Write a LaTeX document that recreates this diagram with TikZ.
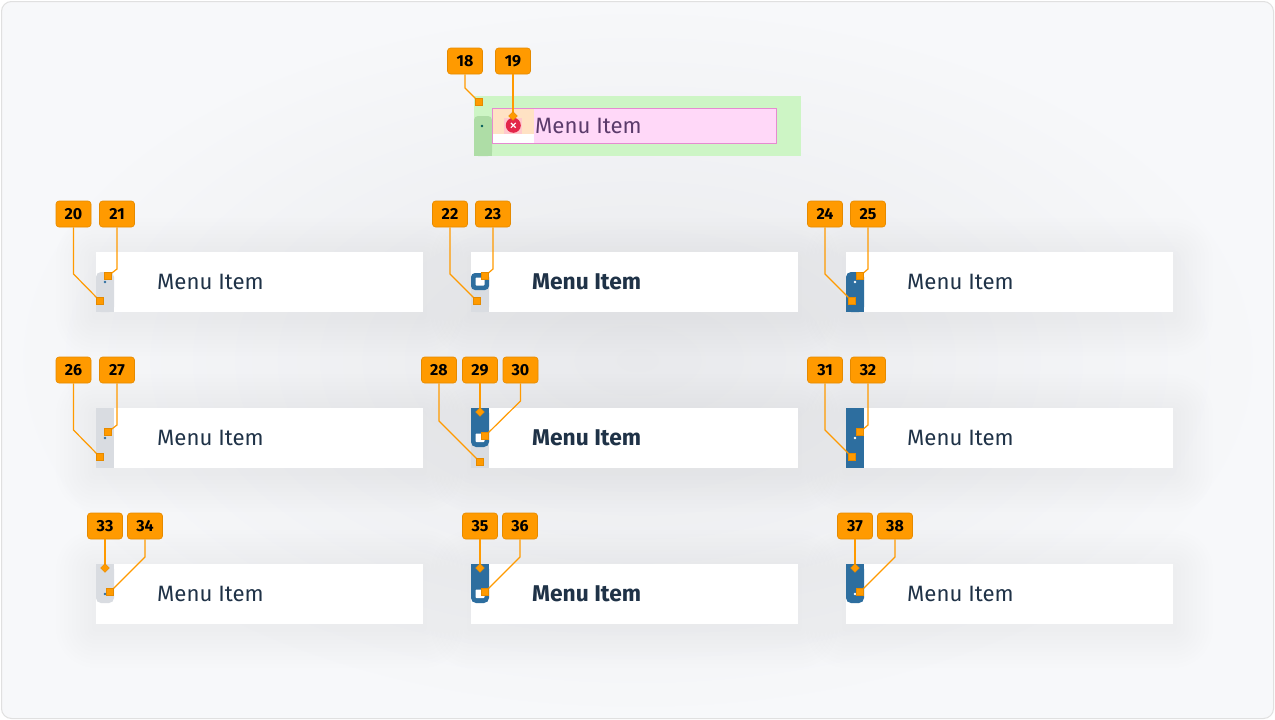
\documentclass[tikz,border=0pt]{standalone}
\usepackage{fontspec}
\setmainfont{Fira Sans}
\usetikzlibrary{shapes.geometric,calc}
\definecolor{orng}{HTML}{FF9A00}
\definecolor{orngd}{HTML}{E58A00}
\definecolor{navy}{HTML}{1F3247}
\definecolor{blu}{HTML}{2D6E9F}
\definecolor{gry}{HTML}{D9DCE1}
\definecolor{grn}{HTML}{CDF5C5}
\definecolor{grnd}{HTML}{AEDDA6}
\definecolor{pnk}{HTML}{FFD8F8}
\definecolor{pnkd}{HTML}{E58BD0}
\definecolor{peach}{HTML}{FFE2C4}
\definecolor{xred}{HTML}{E3264A}
\definecolor{purp}{HTML}{5B3B6B}
\definecolor{bgin}{HTML}{E8E9EC}
\definecolor{bgout}{HTML}{F7F8FA}
\tikzset{
 lab/.style={fill=orng, draw=orngd, line width=0.6, rounded corners=3, minimum width=35, minimum height=26, inner sep=0, font=\bfseries\fontsize{16}{16}\selectfont, text=black},
 lead/.style={draw=orng, line width=1.2},
 sqm/.style={fill=orng, draw=orngd, line width=0.4, minimum size=7, inner sep=0},
 dmm/.style={diamond, fill=orng, draw=orngd, inner sep=0, minimum size=9, line width=0.4},
 itembox/.style={fill=white},
 mtxt/.style={anchor=west, text=navy, font=\fontsize{22.2}{22}\selectfont, inner sep=0},
 btxt/.style={anchor=west, text=navy, font=\bfseries\fontsize{22.8}{22}\selectfont, inner sep=0},
}
\newcommand\itemshadow[2]{%
 \foreach \k [evaluate=\k as \r using \k*4] in {1,...,10}{%
  \fill[black, opacity=0.0045, rounded corners=\r] (#1-\r, #2+6-\r) rectangle (#1+327+\r, #2+64+\r);}}
\begin{document}
\begin{tikzpicture}[x=1pt,y=-1pt]
\useasboundingbox (0,0) rectangle (1275,720);
\fill[white] (0,0) rectangle (1275,720);
\shade[inner color=bgin, outer color=bgout, rounded corners=10] (1.5,1.5) rectangle (1273.5,718.5);
\draw[draw=black!12, line width=1, rounded corners=10] (1.5,1.5) rectangle (1273.5,718.5);

% ---------- top component ----------
\fill[grn] (474,96) rectangle (801,156);
\fill[grnd, rounded corners=4] (474,116) rectangle (492,156);
\fill[grnd] (474,130) rectangle (492,156);
\fill[teal!70!black] (482,126) circle (1.3);
\fill[pnk] (492.3,108.3) rectangle (776.7,143.3);
\fill[peach] (492.8,108.8) rectangle (534,134);
\fill[white] (492.8,134) rectangle (534,142.8);
\fill[pnk!85!red!60!peach] (504,117.7) rectangle (521.7,134);
\draw[pnkd, line width=0.8] (492.3,108.3) rectangle (776.7,143.3);
\node[circle, fill=xred, minimum size=15, inner sep=0] (xc) at (513.3,125.3) {};
\draw[white, line width=1.1] ($(xc.center)+(-2.4,-2.4)$) -- ($(xc.center)+(2.4,2.4)$);
\draw[white, line width=1.1] ($(xc.center)+(-2.4,2.4)$) -- ($(xc.center)+(2.4,-2.4)$);
\node[mtxt, text=purp] (t0) at (535,126) {Menu Item};

% ---------- item shadows ----------
\foreach \xx in {96,471,846}{\foreach \yy in {252,408,564}{\itemshadow{\xx}{\yy}}}

% ---------- items ----------
\foreach \xx/\yy in {96/252,471/252,846/252,96/408,471/408,846/408,96/564,471/564,846/564}{
  \fill[itembox] (\xx,\yy) rectangle (\xx+327,\yy+60);
}

% row 1
\fill[gry, rounded corners=5] (96,272) rectangle (114,312);
\fill[gry] (96,285) rectangle (114,312);
\fill[blu] (105,282) circle (1.4);
\fill[gry, rounded corners=5] (471,273) rectangle (489,312);
\fill[gry] (471,290) rectangle (489,312);
\fill[blu, rounded corners=4] (471,273) rectangle (489,290);
\fill[white, rounded corners=0.8] (475.5,277.5) rectangle (484.5,285.5);
\fill[blu, rounded corners=5] (846,272) rectangle (864,312);
\fill[blu] (846,285) rectangle (864,312);
\fill[white] (855,282) circle (1.4);
\node[mtxt] (ta1) at (157,282) {Menu Item};
\node[btxt] (ta2) at (532,282) {Menu Item};
\node[mtxt] (ta3) at (907,282) {Menu Item};

% row 2
\fill[gry] (96,408) rectangle (114,468);
\fill[blu] (105,438) circle (1.4);
\fill[gry] (471,408) rectangle (489,468);
\fill[blu, rounded corners=5] (471,408) rectangle (489,447);
\fill[blu] (471,408) rectangle (489,425);
\fill[white, rounded corners=0.8] (475.5,433.5) rectangle (484.5,442);
\fill[blu] (846,408) rectangle (864,468);
\fill[white] (855,438) circle (1.4);
\node[mtxt] (tb1) at (157,438) {Menu Item};
\node[btxt] (tb2) at (532,438) {Menu Item};
\node[mtxt] (tb3) at (907,438) {Menu Item};

% row 3
\fill[gry, rounded corners=5] (96,564) rectangle (114,603);
\fill[gry] (96,564) rectangle (114,580);
\fill[blu] (105,594) circle (1.4);
\fill[blu, rounded corners=5] (471,564) rectangle (489,603);
\fill[blu] (471,564) rectangle (489,580);
\fill[white, rounded corners=0.8] (475.5,589.5) rectangle (484.5,598);
\fill[blu, rounded corners=5] (846,564) rectangle (864,603);
\fill[blu] (846,564) rectangle (864,580);
\fill[white] (855,594) circle (1.4);
\node[mtxt] (tc1) at (157,594) {Menu Item};
\node[btxt] (tc2) at (532,594) {Menu Item};
\node[mtxt] (tc3) at (907,594) {Menu Item};

% ---------- labels ----------
\foreach \n/\x/\y in {18/465/61,19/513/61,
  20/73.5/214,21/117/214,22/450/214,23/493/214,24/825/214,25/868/214,
  26/73.5/370,27/117/370,28/439/370,29/480/370,30/520.5/370,31/825/370,32/868/370,
  33/105/526,34/145/526,35/480/526,36/520/526,37/855/526,38/895/526}{
  \node[lab] (l\n) at (\x,\y) {\n};
}

% ---------- leaders and markers ----------
\foreach \n/\mx/\my/\bx/\by in {18/479/102/465/88,
  20/100/301/73.5/274,21/108/276/117/269,22/477/301/450/274,23/485/276/493/269,
  24/852/301/825/274,25/860/276/868/269,
  26/100/457/73.5/430,27/108/432/117/425,28/480/462/439/421,30/485/436/520.5/401,
  31/852/457/825/430,32/860/432/868/425,
  34/110/592/145/557,36/485/592/520/557,38/860/592/895/557}{
  \coordinate (m\n) at (\mx,\my);
  \coordinate (b\n) at (\bx,\by);
  \draw[lead] (l\n.south) -- (b\n) -- (m\n);
  \node[sqm] (q\n) at (m\n) {};
}
\foreach \n/\mx/\my in {19/513/116,29/480/412,33/105/568,35/480/568,37/855/568}{
  \coordinate (m\n) at (\mx,\my);
  \draw[lead] (l\n.south) -- (m\n);
  \node[dmm] (d\n) at (m\n) {};
}
\end{tikzpicture}
\end{document}
